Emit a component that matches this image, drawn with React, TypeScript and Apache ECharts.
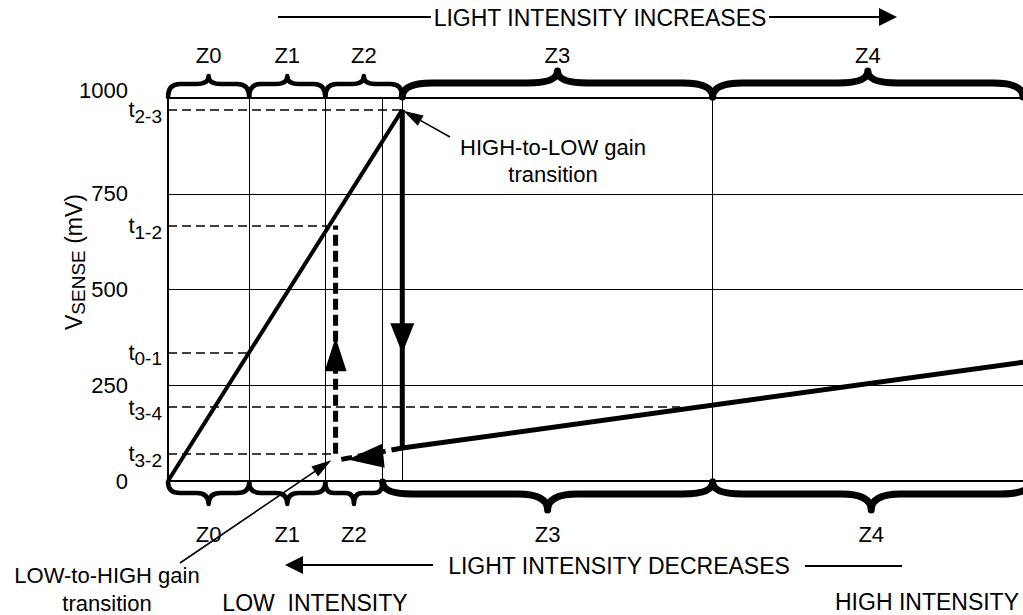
import React, { useEffect, useRef } from "react";
import * as echarts from "echarts";

const FONT = "'Liberation Sans', Arial, Helvetica, sans-serif";

// ---- axis ranges ----
const yMax = 1000;
const yStep = 250;
const xMax = 100;

// ---- threshold levels (mV) and where their dashed guides end (intensity units) ----
const thresholdNames = ["3-2", "3-4", "0-1", "1-2", "2-3"];
const thresholdValues = [71, 193, 336, 667, 969];
const thresholdEnds = [19.3, 59.9, 9.5, 18.6, 27.4];

// ---- zones ----
const zoneNames = ["Z0", "Z1", "Z2", "Z3", "Z4"];
const zoneGridLines = [9.5, 18.4, 25.1, 27.4, 63.7];
const topZones = [[0, 9.5], [9.5, 18.4], [18.4, 27.4], [27.4, 63.7], [63.7, 100]];
const bottomZones = [[0, 9.5], [9.5, 18.4], [18.4, 25.1], [25.1, 63.7], [63.7, 100.8]];

// ---- transfer curves ----
const highGainRamp = [[0, 0], [27.4, 969]];
const highToLowDrop = [[27.4, 969], [27.4, 88]];
const lowGainRamp = [[27.4, 86], [100, 310]];
const lowGainReturn = [[27.4, 86], [19.9, 55]];
const lowToHighJump = [[19.6, 71], [19.6, 667]];
const flowArrows = [[27.4, 373], [19.6, 331], [23.1, 61]];
const flowArrowAngles = [180, 0, 96];
const highToLowPoint = [27.4, 969];
const lowToHighPoint = [19.1, 54];

const blk = "#000";

function braceItem(params: any, api: any) {
  const x0 = api.value(0);
  const x1 = api.value(1);
  const side = api.value(2);
  const px0 = api.coord([x0, 0])[0];
  const px1 = api.coord([x1, 0])[0];
  const big = px1 - px0 > 150;
  const top = side === 0;
  const d = top ? -1 : 1;
  const yBase = top ? api.coord([0, yMax])[1] - 1 : api.coord([0, 0])[1] + 1;
  const midOff = top ? (big ? 14 : 13) : big ? 12 : 11;
  const cuspOff = top ? (big ? 26 : 21) : big ? 28 : 22;
  const m = yBase + d * midOff;
  const c = yBase + d * cuspOff;
  const xm = (px0 + px1) / 2;
  const r = Math.min((px1 - px0) * 0.15, 30);
  const path =
    `M${px0},${yBase} Q${px0},${m} ${px0 + r},${m} L${xm - r},${m} ` +
    `Q${xm},${m} ${xm},${c} Q${xm},${m} ${xm + r},${m} L${px1 - r},${m} Q${px1},${m} ${px1},${yBase}`;
  const labelY = top ? yBase - 42 : yBase + 52;
  return {
    type: "group",
    children: [
      {
        type: "path",
        shape: { pathData: path },
        style: { stroke: blk, fill: "none", lineWidth: big ? 7 : 4.5, lineCap: "round", lineJoin: "round" },
      },
      {
        type: "text",
        x: xm,
        y: labelY,
        style: {
          text: zoneNames[params.dataIndex % 5],
          fill: blk,
          fontSize: 22,
          fontFamily: FONT,
          align: "center",
          verticalAlign: "middle",
          textAlign: "center",
          textVerticalAlign: "middle",
        },
      },
    ],
  };
}

function lineSeries(data: number[][], width: number, extra: any = {}) {
  return {
    type: "line",
    data,
    symbol: "none",
    silent: true,
    z: 4,
    lineStyle: { color: blk, width, cap: "butt", ...(extra.lineStyle || {}) },
  };
}

function txt(text: string, x: number, y: number, size: number, extra: any = {}) {
  return {
    type: "text",
    x,
    y,
    silent: true,
    style: {
      text,
      fill: blk,
      fontSize: size,
      fontFamily: FONT,
      align: "center",
      verticalAlign: "middle",
      textAlign: "center",
      textVerticalAlign: "middle",
      ...extra,
    },
  };
}

function seg(x1: number, y1: number, x2: number, y2: number, w: number) {
  return { type: "line", silent: true, shape: { x1, y1, x2, y2 }, style: { stroke: blk, lineWidth: w } };
}

function poly(points: number[][]) {
  return { type: "polygon", silent: true, shape: { points }, style: { fill: blk } };
}

function callout(tail: number[], tip: number[], len: number, half: number) {
  const dx = tip[0] - tail[0];
  const dy = tip[1] - tail[1];
  const L = Math.hypot(dx, dy);
  const ux = dx / L;
  const uy = dy / L;
  const bx = tip[0] - ux * len;
  const by = tip[1] - uy * len;
  return [
    seg(tail[0], tail[1], bx + ux * 2, by + uy * 2, 1.6),
    poly([
      [tip[0], tip[1]],
      [bx - uy * half, by + ux * half],
      [bx + uy * half, by - ux * half],
    ]),
  ];
}

export default function App() {
  const ref = useRef<HTMLDivElement>(null);
  useEffect(() => {
    const chart = echarts.init(ref.current!, null, { renderer: "svg" });
    const braceData = [
      ...topZones.map((z) => [z[0], z[1], 0]),
      ...bottomZones.map((z) => [z[0], z[1], 1]),
    ];
    const option: any = {
      animation: false,
      backgroundColor: "#fff",
      textStyle: { fontFamily: FONT },
      grid: { left: 168, right: 0, top: 98, bottom: 134, containLabel: false },
      xAxis: [
        {
          type: "value",
          min: 0,
          max: xMax,
          position: "bottom",
          axisLine: { show: true, onZero: false, lineStyle: { color: blk, width: 2 } },
          axisTick: { show: false },
          axisLabel: { show: false },
          splitLine: { show: false },
        },
        {
          type: "value",
          min: 0,
          max: xMax,
          position: "top",
          axisLine: { show: true, onZero: false, lineStyle: { color: blk, width: 2 } },
          axisTick: { show: false },
          axisLabel: { show: false },
          splitLine: { show: false },
        },
      ],
      yAxis: [
        {
          type: "value",
          min: 0,
          max: yMax,
          interval: yStep,
          position: "left",
          axisLine: { show: true, onZero: false, lineStyle: { color: blk, width: 2 } },
          axisTick: { show: false },
          axisLabel: {
            color: blk,
            fontSize: 22,
            fontFamily: FONT,
            margin: 40,
            formatter: (v: number) => (v === yMax ? `{up|${v}}` : `{n|${v}}`),
            rich: {
              up: { fontSize: 22, fontFamily: FONT, color: blk, padding: [0, 0, 16, 0] },
              n: { fontSize: 22, fontFamily: FONT, color: blk },
            },
          },
          splitLine: { show: true, lineStyle: { color: blk, width: 1 } },
        },
        {
          type: "value",
          min: 0,
          max: yMax,
          position: "left",
          axisLine: { show: false },
          axisTick: { show: false },
          splitLine: { show: false },
          axisLabel: {
            customValues: thresholdValues,
            margin: 6,
            formatter: (v: number) => {
              const i = thresholdValues.indexOf(v);
              return `{t|t}{s|${i >= 0 ? thresholdNames[i] : ""}}`;
            },
            rich: {
              t: { fontSize: 22, fontFamily: FONT, color: blk },
              s: { fontSize: 19, fontFamily: FONT, color: blk, padding: [13, 0, 0, 0] },
            },
          },
        },
      ],
      series: [
        {
          type: "line",
          data: highGainRamp,
          symbol: "none",
          silent: true,
          z: 4,
          lineStyle: { color: blk, width: 4 },
          markLine: {
            silent: true,
            symbol: ["none", "none"],
            label: { show: false },
            lineStyle: { color: blk, width: 1, type: "solid" },
            data: zoneGridLines.map((x) => ({ xAxis: x })),
          },
        },
        {
          type: "line",
          data: lowGainRamp,
          symbol: "none",
          silent: true,
          z: 4,
          lineStyle: { color: blk, width: 5 },
          markLine: {
            silent: true,
            symbol: ["none", "none"],
            label: { show: false },
            lineStyle: { color: blk, width: 1.5, type: [9, 5] },
            data: thresholdValues.map((v, i) => [{ coord: [0, v] }, { coord: [thresholdEnds[i], v] }]),
          },
        },
        lineSeries(highToLowDrop, 5),
        lineSeries(lowGainReturn, 5, { lineStyle: { type: [11, 6] } }),
        lineSeries(lowToHighJump, 5, { lineStyle: { type: [11, 5] } }),
        {
          type: "scatter",
          silent: true,
          z: 6,
          symbol: "triangle",
          itemStyle: { color: blk, opacity: 1 },
          data: flowArrows.map((p, i) => ({
            value: p,
            symbolRotate: flowArrowAngles[i],
            symbolSize: i === 0 ? [24, 30] : i === 1 ? [22, 34] : [24, 36],
            itemStyle: { color: blk, opacity: 1 },
          })),
        },
        {
          type: "custom",
          coordinateSystem: "cartesian2d",
          clip: false,
          silent: true,
          z: 5,
          renderItem: braceItem,
          data: braceData,
        },
      ],
    };
    chart.setOption(option);

    const tipHL = chart.convertToPixel({ gridIndex: 0 }, highToLowPoint) as number[];
    const tipLH = chart.convertToPixel({ gridIndex: 0 }, lowToHighPoint) as number[];

    const graphic: any[] = [
      // top direction arrow
      seg(278, 17, 431, 17, 2),
      txt("LIGHT INTENSITY INCREASES", 600, 18, 23),
      seg(769, 17, 882, 17, 2),
      poly([[897, 17], [879, 8], [879, 26]]),
      // bottom direction arrow
      poly([[285, 565], [303, 556], [303, 574]]),
      seg(302, 565, 433, 565, 2),
      txt("LIGHT INTENSITY DECREASES", 619, 566, 23),
      seg(805, 566, 902, 566, 2),
      txt("LOW  INTENSITY", 315, 603, 23),
      txt("HIGH INTENSITY", 927, 602, 23),
      // callouts
      txt("HIGH-to-LOW gain\ntransition", 553, 161, 22, { lineHeight: 27 }),
      ...callout([450, 137], [tipHL[0] + 1, tipHL[1] + 1], 20, 6),
      txt("LOW-to-HIGH gain\ntransition", 107, 589, 22, { lineHeight: 28 }),
      ...callout([180, 563], tipLH, 20, 6),
      // y axis title
      {
        type: "text",
        x: 74,
        y: 262,
        rotation: Math.PI / 2,
        silent: true,
        style: {
          text: "{v|V}{s|SENSE}{n| (mV)}",
          align: "center",
          verticalAlign: "middle",
          textAlign: "center",
          textVerticalAlign: "middle",
          rich: {
            v: { fontSize: 23, fontFamily: FONT, fill: blk, color: blk },
            s: { fontSize: 19, fontFamily: FONT, fill: blk, color: blk, padding: [8, 0, 0, 0] },
            n: { fontSize: 23, fontFamily: FONT, fill: blk, color: blk },
          },
        },
      },
    ];
    chart.setOption({ graphic });

    return () => chart.dispose();
  }, []);

  return (
    <div
      ref={ref}
      style={{ position: "absolute", left: 0, top: 0, width: 1023, height: 615, background: "#fff" }}
    />
  );
}
